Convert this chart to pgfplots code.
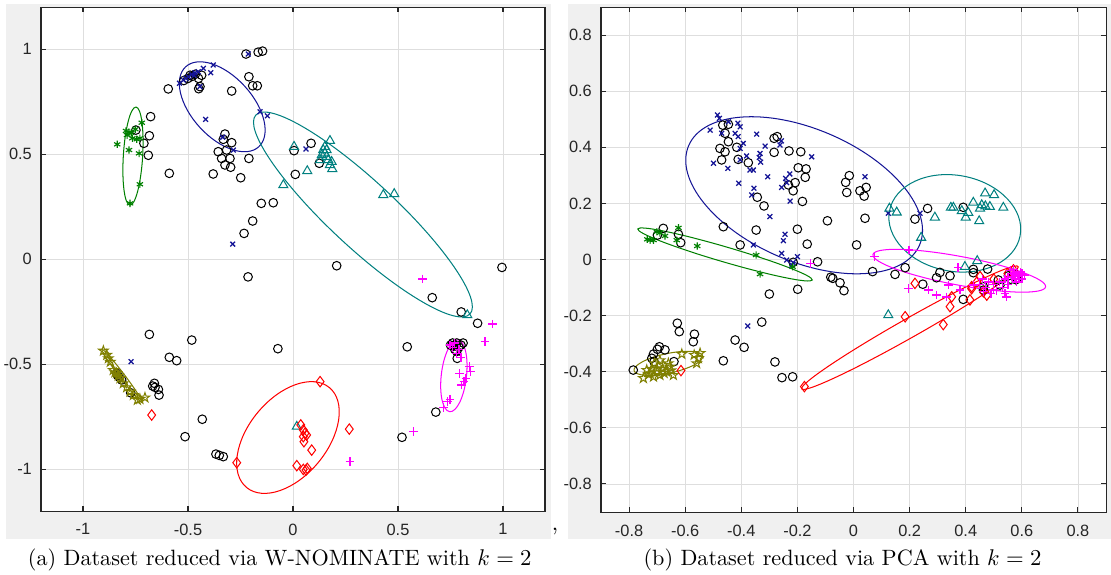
\documentclass[border=0pt]{standalone}
\usepackage{fontspec}
\usepackage{pgfplots}
\pgfplotsset{compat=1.18}
\usetikzlibrary{plotmarks}
\newfontfamily\arial{Liberation Sans}
\definecolor{figgray}{RGB}{240,240,240}
\definecolor{axisgray}{RGB}{38,38,38}
\definecolor{navyc}{RGB}{20,20,150}
\definecolor{tealc}{RGB}{0,128,128}
\definecolor{greenc}{RGB}{0,128,0}
\definecolor{olivec}{RGB}{128,128,0}
\definecolor{magc}{RGB}{255,0,255}
\definecolor{redc}{RGB}{255,0,0}
\pgfdeclareplotmark{pentagram}{%
 \pgfpathmoveto{\pgfpointpolar{90}{\pgfplotmarksize}}%
 \pgfpathlineto{\pgfpointpolar{126}{0.382\pgfplotmarksize}}%
 \pgfpathlineto{\pgfpointpolar{162}{\pgfplotmarksize}}%
 \pgfpathlineto{\pgfpointpolar{198}{0.382\pgfplotmarksize}}%
 \pgfpathlineto{\pgfpointpolar{234}{\pgfplotmarksize}}%
 \pgfpathlineto{\pgfpointpolar{270}{0.382\pgfplotmarksize}}%
 \pgfpathlineto{\pgfpointpolar{306}{\pgfplotmarksize}}%
 \pgfpathlineto{\pgfpointpolar{342}{0.382\pgfplotmarksize}}%
 \pgfpathlineto{\pgfpointpolar{18}{\pgfplotmarksize}}%
 \pgfpathlineto{\pgfpointpolar{54}{0.382\pgfplotmarksize}}%
 \pgfpathclose\pgfusepathqstroke}
\tikzset{ell/.style={line width=0.45pt}}
\pgfplotsset{
 common/.style={scale only axis, anchor=south west,
  axis background/.style={fill=white},
  grid=major, grid style={color=black!13, line width=0.4pt},
  tick align=inside, major tick length=2.2pt,
  tick style={color=axisgray, line width=0.45pt},
  axis line style={color=axisgray, line width=0.45pt},
  ticklabel style={font=\arial\fontsize{7.2}{8}\selectfont, text=axisgray},
  xticklabel style={yshift=-2pt},
  yticklabel style={xshift=-0.5pt}},
 circ/.style={only marks, mark=o, mark size=1.9pt, color=black, line width=0.45pt},
 bx/.style={only marks, mark=x, mark size=1.5pt, color=navyc, line width=0.55pt},
 gr/.style={only marks, mark=asterisk, mark size=1.6pt, color=greenc, line width=0.5pt},
 te/.style={only marks, mark=triangle, mark size=2.3pt, color=tealc, line width=0.45pt},
 rd/.style={only marks, mark=diamond, mark size=2.3pt, color=redc, line width=0.45pt},
 mg/.style={only marks, mark=+, mark size=1.9pt, color=magc, line width=0.6pt},
 ol/.style={only marks, mark=pentagram, mark size=2.2pt, color=olivec, line width=0.45pt}
}
\begin{document}
\begin{tikzpicture}
\path[use as bounding box] (0,0) rectangle (488.84pt,-252.56pt);
\fill[figgray] (2.64pt,-1.76pt) rectangle (242.44pt,-237.16pt);
\fill[figgray] (249.92pt,-1.76pt) rectangle (488.84pt,-237.16pt);
% ---------------- Left panel ----------------
\begin{axis}[common, at={(18.04pt,-224.84pt)}, width=221.76pt, height=221.76pt,
  xmin=-1.2, xmax=1.2, ymin=-1.2, ymax=1.2,
  xtick={-1,-0.5,0,0.5,1}, xticklabels={-1,-0.5,0,0.5,1},
  ytick={-1,-0.5,0,0.5,1}, yticklabels={-1,-0.5,0,0.5,1}]
\addplot[circ] coordinates {
(-0.224,0.976) (-0.166,0.985) (-0.145,0.990)
(-0.210,0.868) (-0.192,0.825) (-0.170,0.825)
(-0.292,0.800) (-0.594,0.810) (-0.449,0.811) (-0.443,0.821)
(-0.52,0.85) (-0.50,0.86) (-0.48,0.87) (-0.465,0.88) (-0.49,0.875) (-0.435,0.875) (-0.45,0.86)
(-0.678,0.678) (-0.684,0.587) (-0.710,0.551) (-0.689,0.494) (-0.748,0.614) (-0.589,0.408)
(-0.324,0.595) (-0.332,0.570) (-0.292,0.554) (-0.356,0.511) (-0.316,0.519) (-0.340,0.479) (-0.300,0.479) (-0.324,0.448) (-0.297,0.437) (-0.380,0.405) (-0.249,0.387) (-0.210,0.479)
(-0.151,0.265) (-0.094,0.268) (-0.192,0.181) (-0.233,0.122)
(0.086,0.551) (0.005,0.516) (0.125,0.456) (0.011,0.403)
(0.208,-0.032) (0.995,-0.040) (0.663,-0.184) (0.801,-0.252) (0.879,-0.306) (0.544,-0.418) (-0.072,-0.427) (-0.214,-0.085)
(-0.684,-0.359) (-0.482,-0.386) (-0.589,-0.468) (-0.554,-0.484) (-0.660,-0.592) (-0.657,-0.611) (-0.668,-0.605) (-0.641,-0.621) (-0.638,-0.648) (-0.432,-0.763) (-0.514,-0.846) (-0.367,-0.929) (-0.351,-0.935) (-0.332,-0.941)
(-0.840,-0.544) (-0.827,-0.563) (-0.816,-0.576) (-0.773,-0.637) (-0.835,-0.555)
(0.519,-0.849) (0.680,-0.729) (0.782,-0.473)
(0.76,-0.40) (0.77,-0.41) (0.78,-0.40) (0.79,-0.42) (0.77,-0.43) (0.80,-0.41) (0.81,-0.40) (0.78,-0.44) (0.765,-0.415) (0.75,-0.41)
};
\addplot[bx] coordinates {
(-0.541,0.837) (-0.522,0.852) (-0.498,0.868) (-0.482,0.879) (-0.467,0.887) (-0.451,0.892) (-0.427,0.908) (-0.392,0.887) (-0.380,0.924) (-0.51,0.86) (-0.47,0.875) (-0.443,0.821) (-0.416,0.665) (-0.335,0.580) (-0.284,0.519) (-0.157,0.701) (-0.122,0.682) (0.062,0.524) (-0.287,0.071) (-0.213,0.976) (-0.771,-0.489)
};
\addplot[gr] coordinates {
(-0.837,0.546) (-0.795,0.610) (-0.781,0.603) (-0.765,0.575) (-0.751,0.618) (-0.744,0.570) (-0.729,0.575) (-0.720,0.649) (-0.781,0.519) (-0.733,0.503) (-0.729,0.356) (-0.776,0.265) (-0.77,0.60) (-0.79,0.59)
};
\addplot[te] coordinates {
(0.005,0.535) (0.176,0.563) (0.144,0.519) (0.152,0.503) (0.137,0.495) (0.160,0.487) (0.168,0.471) (0.184,0.463) (0.176,0.448) (0.129,0.471) (0.160,0.519) (0.152,0.535) (0.187,0.429) (0.068,0.419) (-0.046,0.352) (0.430,0.305) (0.482,0.310) (0.830,-0.267) (0.018,-0.798)
};
\addplot[rd] coordinates {
(0.129,-0.584) (-0.268,-0.970) (0.268,-0.810) (0.037,-0.790) (0.049,-0.814) (0.057,-0.830) (0.065,-0.838) (0.049,-0.846) (0.052,-0.870) (0.089,-0.910) (0.018,-0.984) (0.049,-1.002) (0.062,-1.005) (0.068,-0.997) (-0.673,-0.743)
};
\addplot[mg] coordinates {
(0.951,-0.310) (0.914,-0.394) (0.840,-0.513) (0.846,-0.537) (0.792,-0.544) (0.824,-0.568) (0.814,-0.584) (0.803,-0.600) (0.748,-0.668) (0.735,-0.680) (0.716,-0.706) (0.573,-0.822) (0.271,-0.965) (0.616,-0.095) (0.748,-0.410) (0.76,-0.42) (0.779,-0.449) (0.77,-0.40) (0.79,-0.43) (0.80,-0.47)
};
\addplot[ol] coordinates {
(-0.903,-0.437) (-0.887,-0.457) (-0.879,-0.473) (-0.856,-0.529) (-0.840,-0.544) (-0.824,-0.568) (-0.808,-0.592) (-0.792,-0.611) (-0.776,-0.632) (-0.760,-0.648) (-0.741,-0.671) (-0.729,-0.667) (-0.705,-0.660) (-0.870,-0.490) (-0.848,-0.540) (-0.832,-0.556)
};
\draw[navyc, ell, rotate around={-47.6:(axis cs:-0.337,0.725)}] (axis cs:-0.337,0.725) ellipse [x radius=0.258, y radius=0.145];
\draw[greenc, ell, rotate around={86.5:(axis cs:-0.762,0.490)}] (axis cs:-0.762,0.490) ellipse [x radius=0.234, y radius=0.046];
\draw[tealc, ell, rotate around={-42.9:(axis cs:0.333,0.212)}] (axis cs:0.333,0.212) ellipse [x radius=0.696, y radius=0.158];
\draw[redc, ell, rotate around={50.3:(axis cs:-0.024,-0.850)}] (axis cs:-0.024,-0.850) ellipse [x radius=0.309, y radius=0.187];
\draw[magc, ell, rotate around={83.4:(axis cs:0.766,-0.556)}] (axis cs:0.766,-0.556) ellipse [x radius=0.172, y radius=0.060];
\draw[olivec, ell, rotate around={-52.8:(axis cs:-0.815,-0.555)}] (axis cs:-0.815,-0.555) ellipse [x radius=0.157, y radius=0.012];
\end{axis}
% ---------------- Right panel ----------------
\begin{axis}[common, at={(264.44pt,-225.28pt)}, width=222.2pt, height=222.2pt,
  xmin=-0.9, xmax=0.9, ymin=-0.9, ymax=0.9,
  xtick={-0.8,-0.6,-0.4,-0.2,0,0.2,0.4,0.6,0.8}, xticklabels={-0.8,-0.6,-0.4,-0.2,0,0.2,0.4,0.6,0.8},
  ytick={-0.8,-0.6,-0.4,-0.2,0,0.2,0.4,0.6,0.8}, yticklabels={-0.8,-0.6,-0.4,-0.2,0,0.2,0.4,0.6,0.8}]
\addplot[circ] coordinates {
(-0.466,0.479) (-0.446,0.482) (-0.458,0.450) (-0.446,0.420) (-0.416,0.400) (-0.476,0.396) (-0.458,0.384) (-0.470,0.355) (-0.411,0.357) (-0.375,0.345) (-0.283,0.432) (-0.272,0.438) (-0.283,0.382) (-0.230,0.387) (-0.188,0.384) (-0.197,0.327) (-0.169,0.323) (-0.172,0.293) (-0.232,0.266) (-0.208,0.274) (-0.215,0.245) (-0.182,0.207) (-0.343,0.222) (-0.319,0.191) (-0.015,0.299) (-0.028,0.275) (-0.024,0.239) (0.023,0.245) (0.045,0.257) (0.038,0.226) (-0.093,0.138) (0.041,0.147) (0.011,0.052) (-0.464,0.117) (-0.347,0.105) (-0.200,0.108) (-0.404,0.052) (-0.165,0.055) (-0.128,-0.008) (-0.081,-0.063) (-0.074,-0.067) (-0.048,-0.083) (-0.034,-0.111) (-0.300,-0.123) (-0.199,-0.106) (0.068,-0.043)
(-0.678,0.111) (-0.699,0.087) (-0.624,0.090) (-0.616,0.060)
(0.219,0.144) (0.264,0.182) (0.391,0.186) (0.148,-0.053) (0.184,-0.029) (0.247,-0.088) (0.296,-0.065) (0.308,-0.046) (0.344,-0.058) (0.427,-0.035) (0.427,-0.047) (0.478,-0.034) (0.463,-0.097) (0.463,-0.109) (0.391,-0.142) (0.516,-0.073) (0.522,-0.091) (0.552,-0.058) (0.582,-0.067) (0.570,-0.049) (0.579,-0.072) (0.56,-0.07)
(-0.628,-0.227) (-0.621,-0.257) (-0.567,-0.266) (-0.571,-0.293) (-0.692,-0.311) (-0.699,-0.320) (-0.672,-0.322) (-0.713,-0.337) (-0.719,-0.352) (-0.711,-0.364) (-0.640,-0.364) (-0.785,-0.394) (-0.422,-0.287) (-0.390,-0.313) (-0.464,-0.361) (-0.327,-0.223) (-0.280,-0.365) (-0.255,-0.421) (-0.217,-0.418) (-0.215,-0.010)
};
\addplot[bx] coordinates {
(-0.485,0.515) (-0.478,0.503) (-0.511,0.461) (-0.470,0.450) (-0.446,0.491) (-0.404,0.473) (-0.422,0.450) (-0.411,0.438) (-0.345,0.447) (-0.315,0.404) (-0.262,0.408) (-0.393,0.414) (-0.404,0.396) (-0.333,0.378) (-0.381,0.369) (-0.404,0.355) (-0.331,0.347) (-0.448,0.325) (-0.369,0.319) (-0.357,0.319) (-0.149,0.366) (-0.306,0.295) (-0.242,0.289) (-0.238,0.274) (-0.409,0.272) (-0.355,0.254) (-0.256,0.257) (-0.363,0.230) (-0.226,0.208) (-0.298,0.153) (0.041,0.295) (-0.357,0.052) (-0.250,0.067) (-0.256,0.022) (-0.238,-0.002) (-0.215,-0.011) (-0.200,0.010) (-0.22,-0.02) (-0.377,-0.237) (0.124,0.165) (0.237,0.165) (-0.244,0.090) (-0.336,0.364) (-0.412,0.486) (-0.499,0.343) (-0.227,0.305) (-0.257,0.423)
};
\addplot[gr] coordinates {
(-0.725,0.069) (-0.713,0.069) (-0.701,0.099) (-0.672,0.084) (-0.624,0.113) (-0.630,0.069) (-0.557,0.048) (-0.347,0.016) (-0.333,-0.052) (-0.217,-0.026) (-0.69,0.095) (-0.735,0.072)
};
\addplot[te] coordinates {
(0.128,0.182) (0.154,0.168) (0.290,0.150) (0.241,0.078) (0.347,0.185) (0.356,0.185) (0.386,0.173) (0.409,0.167) (0.427,0.203) (0.457,0.194) (0.469,0.236) (0.501,0.230) (0.486,0.188) (0.534,0.185) (0.448,0.137) (0.397,-0.026) (0.441,-0.005) (0.124,-0.198) (0.451,0.182) (0.47,0.19) (0.40,0.15)
};
\addplot[rd] coordinates {
(0.219,-0.085) (0.184,-0.204) (0.350,-0.133) (0.344,-0.168) (0.421,-0.097) (0.415,-0.144) (0.451,-0.061) (0.463,-0.115) (0.475,-0.127) (0.570,-0.037) (0.320,-0.232) (0.421,-0.104) (-0.615,-0.396) (-0.175,-0.453) (0.44,-0.08) (0.50,-0.07) (0.55,-0.05)
};
\addplot[mg] coordinates {
(0.074,0.010) (0.198,0.034) (0.195,-0.103) (0.267,-0.109) (0.296,-0.127) (0.332,-0.133) (0.338,-0.091) (0.373,-0.028) (0.380,-0.109) (0.427,-0.091) (0.463,-0.115) (0.498,-0.109) (0.540,-0.120) (0.546,-0.133) (-0.153,-0.014) (0.56,-0.04) (0.57,-0.05) (0.58,-0.045) (0.59,-0.06) (0.60,-0.05) (0.61,-0.055) (0.55,-0.065) (0.575,-0.07) (0.585,-0.055) (0.565,-0.06) (0.595,-0.045) (0.54,-0.07) (0.52,-0.08) (0.50,-0.09) (0.48,-0.08) (0.46,-0.07) (0.45,-0.09) (0.53,-0.10) (0.51,-0.11) (0.47,-0.10) (0.49,-0.12) (0.55,-0.09) (0.58,-0.08) (0.60,-0.07) (0.57,-0.035)
};
\addplot[ol] coordinates {
(-0.749,-0.423) (-0.725,-0.406) (-0.701,-0.388) (-0.678,-0.376) (-0.666,-0.400) (-0.690,-0.412) (-0.654,-0.382) (-0.612,-0.337) (-0.568,-0.340) (-0.553,-0.352) (-0.559,-0.370) (-0.547,-0.334) (-0.713,-0.418) (-0.737,-0.394) (-0.642,-0.412) (-0.70,-0.40) (-0.68,-0.39) (-0.72,-0.39) (-0.66,-0.37) (-0.71,-0.37) (-0.69,-0.36) (-0.73,-0.41) (-0.65,-0.395) (-0.675,-0.405)
};
\draw[navyc, ell, rotate around={-23.3:(axis cs:-0.176,0.229)}] (axis cs:-0.176,0.229) ellipse [x radius=0.448, y radius=0.236];
\draw[greenc, ell, rotate around={-16.3:(axis cs:-0.458,0.018)}] (axis cs:-0.458,0.018) ellipse [x radius=0.324, y radius=0.027];
\draw[tealc, ell, rotate around={-10.8:(axis cs:0.361,0.129)}] (axis cs:0.361,0.129) ellipse [x radius=0.237, y radius=0.171];
\draw[redc, ell, rotate around={29.5:(axis cs:0.201,-0.243)}] (axis cs:0.201,-0.243) ellipse [x radius=0.443, y radius=0.034];
\draw[magc, ell, rotate around={-10.6:(axis cs:0.377,-0.040)}] (axis cs:0.377,-0.040) ellipse [x radius=0.313, y radius=0.051];
\draw[olivec, ell, rotate around={12:(axis cs:-0.66,-0.37)}] (axis cs:-0.66,-0.37) ellipse [x radius=0.125, y radius=0.035];
\end{axis}
\node[anchor=base west, inner sep=0pt] at (242.6pt,-233.2pt) {,};
\node[anchor=base, inner sep=0pt, font=\fontsize{9.75}{12}\selectfont] at (123.1pt,-249pt) {(a) Dataset reduced via W-NOMINATE with $k=2$};
\node[anchor=base, inner sep=0pt, font=\fontsize{9.75}{12}\selectfont] at (370.7pt,-249pt) {(b) Dataset reduced via PCA with $k=2$};
\end{tikzpicture}
\end{document}
